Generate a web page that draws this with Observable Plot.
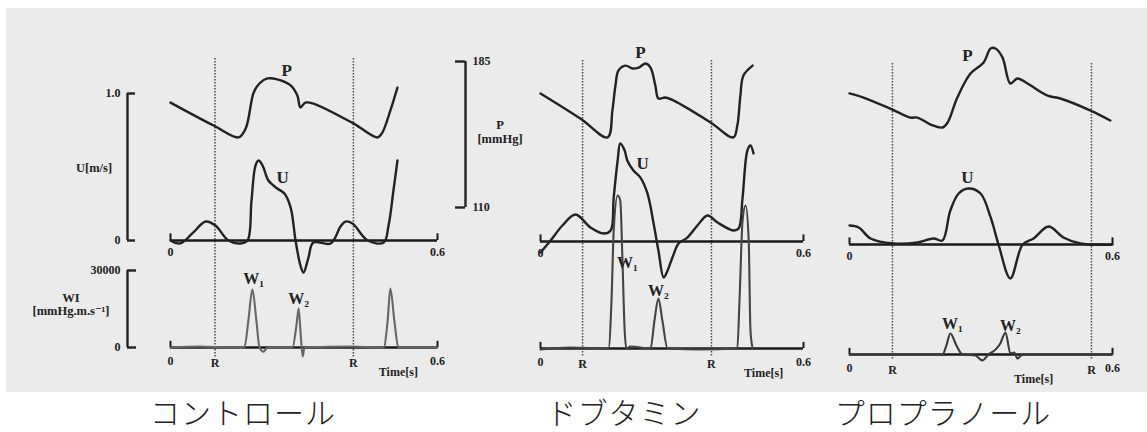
<!DOCTYPE html>
<html><head><meta charset="utf-8">
<script src="https://cdn.jsdelivr.net/npm/d3@7"></script>
<script src="https://cdn.jsdelivr.net/npm/@observablehq/plot@0.6"></script>
<style>
body{margin:0;background:#fff;}
#wrap{position:relative;width:1147px;height:432px;overflow:hidden;background:#fff;}
#paper{position:absolute;left:6px;top:8px;width:1141px;height:384px;background:#ebebeb;}
.cap{position:absolute;top:392px;transform:translateX(-50%);font-family:"Noto Sans CJK JP",sans-serif;font-weight:300;font-size:30px;letter-spacing:1px;color:#222;white-space:nowrap;line-height:38px;}
</style></head>
<body><div id="wrap"><div id="paper"></div></div>
<script>
// ---------- data ----------
const panelNames = ["コントロール", "ドブタミン", "プロプラノール"];
const timeDomain = [0, 0.6];
const xTicks = [0, 0.6];
const xTickLabels = ["0", "0.6"];
const pDomain = [110, 185];
const uDomain = [0, 1];
const wDomain = [0, 30000];
const pTicks = [110, 185], pTickLabels = ["110", "185"];
const uTicks = [0, 1], uTickLabels = ["0", "1.0"];
const wTicks = [0, 30000], wTickLabels = ["0", "30000"];

// control  [time s, value]
const ctrlP = [[0,163.9],[0.097,152.1],[0.153,146.0],[0.169,150.6],[0.187,169.1],[0.200,173.7],[0.218,176.3],[0.240,175.8],[0.270,172.7],[0.285,167.5],[0.292,161.4],[0.303,163.9],[0.321,163.4],[0.411,153.2],[0.465,146.0],[0.476,148.5],[0.494,159.8],[0.510,171.6]];
const ctrlU = [[0,0],[0.022,-0.02],[0.049,0.048],[0.079,0.129],[0.101,0.102],[0.130,0],[0.157,-0.02],[0.173,0],[0.182,0.272],[0.191,0.51],[0.198,0.544],[0.207,0.51],[0.220,0.408],[0.240,0.354],[0.256,0.320],[0.270,0.224],[0.281,0],[0.292,-0.17],[0.299,-0.218],[0.310,-0.116],[0.321,-0.014],[0.360,-0.02],[0.382,0.095],[0.393,0.129],[0.409,0.116],[0.443,0],[0.479,-0.014],[0.490,0.102],[0.501,0.340],[0.510,0.544]];
const ctrlW = [[0,0],[0.067,400],[0.135,0],[0.166,0],[0.175,10500],[0.184,22600],[0.193,10500],[0.200,0],[0.209,-1600],[0.218,0],[0.274,0],[0.283,8600],[0.288,15200],[0.292,6600],[0.297,-3500],[0.301,0],[0.404,400],[0.479,0],[0.488,10500],[0.494,23000],[0.503,10500],[0.512,0],[0.6,0]];
const ctrlR = [0.1, 0.411];
const ctrlLabels = {P:[0.261,180.4], U:[0.252,0.43], W1:[0.187,26900], W2:[0.288,19100], time:0.512};

// dobutamine
const dobuP = [[0,168.6],[0.091,155.7],[0.153,146.0],[0.164,159.8],[0.171,172.7],[0.178,180.4],[0.194,182.9],[0.210,181.4],[0.224,181.9],[0.240,184.0],[0.251,181.9],[0.262,172.7],[0.269,166.0],[0.285,166.5],[0.303,165.0],[0.388,153.7],[0.440,146.0],[0.449,152.1],[0.456,167.5],[0.463,177.8],[0.484,182.9]];
const dobuU = [[0,-0.075],[0.023,0.007],[0.050,0.109],[0.080,0.184],[0.114,0.095],[0.144,0.054],[0.160,0.075],[0.167,0.299],[0.176,0.551],[0.182,0.667],[0.192,0.619],[0.198,0.551],[0.212,0.483],[0.228,0.435],[0.244,0.327],[0.258,0.122],[0.269,-0.061],[0.281,-0.245],[0.290,-0.197],[0.301,-0.109],[0.315,-0.014],[0.335,0.027],[0.358,0.109],[0.381,0.177],[0.404,0.129],[0.440,0.075],[0.452,0.088],[0.461,0.299],[0.472,0.619],[0.479,0.653],[0.486,0.599]];
const dobuW = [[0,-400],[0.068,400],[0.155,0],[0.162,18700],[0.167,46000],[0.176,59600],[0.182,57700],[0.187,34300],[0.192,7000],[0.196,0],[0.205,800],[0.251,0],[0.260,10900],[0.269,19500],[0.278,10900],[0.290,0],[0.365,-400],[0.449,0],[0.454,18700],[0.461,49900],[0.468,55700],[0.475,42100],[0.479,7000],[0.484,0]];
const dobuR = [0.096, 0.39];
const dobuLabels = {P:[0.228,189.6], U:[0.233,0.53], W1:[0.198,33500], W2:[0.269,22600], time:0.509};

// propranolol
const propP = [[0,168.6],[0.032,166.5],[0.098,160.3],[0.139,156.2],[0.155,156.2],[0.185,152.6],[0.212,151.1],[0.224,153.7],[0.246,166.5],[0.276,178.8],[0.306,184.5],[0.322,191.7],[0.333,191.7],[0.349,187.1],[0.367,173.7],[0.383,176.3],[0.406,173.7],[0.452,167.5],[0.481,166.0],[0.550,159.8],[0.595,154.7]];
const propU = [[0,0.129],[0.021,0.116],[0.048,0.041],[0.100,0.007],[0.155,0.014],[0.192,0.041],[0.212,0.027],[0.230,0.231],[0.249,0.347],[0.271,0.381],[0.299,0.347],[0.322,0.184],[0.340,0],[0.367,-0.231],[0.395,0],[0.420,0.041],[0.454,0.122],[0.488,0.048],[0.527,0.007],[0.600,0]];
const propW = [[0,0],[0.071,0],[0.212,0],[0.221,3500],[0.230,8200],[0.244,3500],[0.258,0],[0.287,-400],[0.303,-2300],[0.317,0],[0.333,1900],[0.344,4300],[0.356,8600],[0.367,400],[0.376,800],[0.383,-1600],[0.395,0],[0.6,0]];
const propR = [0.098, 0.552];
const propLabels = {P:[0.269,188.1], U:[0.269,0.456], W1:[0.235,12100], W2:[0.367,11300], time:0.42};

// axis titles [text, value]
const uTitles = [["U[m/s]", 0.49]];
const wTitles = [["WI", 19100], ["[mmHg.m.s\u207B\u00B9]", 14000]];
const pTitles = [["P", 152.1], ["[mmHg]", 144.9]];

// ---------- layout (pixels) ----------
const W = 1147, H = 392;
const layout = [
  {x:[170,437], P:[207,61], U:[240,93], W:[347,270], rTop:58, rBottom:357},
  {x:[540,803], P:[207,61], U:[241,94], W:[348,271], rTop:60, rBottom:357},
  {x:[849,1112], P:[207,61], U:[244,97], W:[354,277], rTop:63, rBottom:360}
];
const captionX = [243, 624, 943];
const panels = [
  {P:ctrlP, U:ctrlU, W:ctrlW, R:ctrlR, L:ctrlLabels, wColor:"#666"},
  {P:dobuP, U:dobuU, W:dobuW, R:dobuR, L:dobuLabels, wColor:"#444"},
  {P:propP, U:propU, W:propW, R:propR, L:propLabels, wColor:"#3a3a3a"}
];

const ink = "#222";
const serif = "Liberation Serif, DejaVu Serif, serif";
const tickFont = {fontFamily: serif, fontWeight: "bold", fontSize: 12, fill: ink};
const bigFont = {fontFamily: serif, fontWeight: "bold", fontSize: 17, fill: ink};
const wFont = {fontFamily: serif, fontWeight: "bold", fontSize: 16, fill: ink};
const wrap = document.getElementById("wrap");

function place(svg, left, top) {
  Object.assign(svg.style, {position:"absolute", left:left+"px", top:top+"px", background:"transparent", maxWidth:"none", overflow:"visible"});
  wrap.appendChild(svg);
}
const px = d => d[0], py = d => d[1];

panels.forEach((pn, i) => {
  const L = layout[i];
  const x = {domain: timeDomain, range: L.x, axis: null};
  // R lines
  place(Plot.plot({
    width: W, height: H, marginTop: L.rTop, marginBottom: H - L.rBottom, marginLeft: 0, marginRight: 0,
    x,
    marks: [Plot.ruleX(pn.R, {stroke: "#4a4a4a", strokeWidth: 1.5, strokeDasharray: "1.5,1.5"})]
  }), 0, 0);
  // P
  place(Plot.plot({
    width: W, height: H, margin: 0, x,
    y: {domain: pDomain, range: L.P, axis: null},
    marks: [
      Plot.line(pn.P, {x: px, y: py, curve: "catmull-rom", stroke: ink, strokeWidth: 2.4}),
      Plot.text([pn.L.P], {x: px, y: py, text: () => "P", ...bigFont})
    ]
  }), 0, 0);
  // U
  place(Plot.plot({
    width: W, height: H, margin: 0, x,
    y: {domain: uDomain, range: L.U, axis: null},
    marks: [
      Plot.ruleY([0], {x1: xTicks[0], x2: xTicks[1], stroke: "#1a1a1a", strokeWidth: 2.4}),
      Plot.ruleX(xTicks, {y1: 0, y2: 0.045, stroke: "#1a1a1a", strokeWidth: 2}),
      Plot.text(xTicks, {x: d => d, y: 0, dy: 12, text: (d, k) => xTickLabels[k], ...tickFont}),
      Plot.line(pn.U, {x: px, y: py, curve: "catmull-rom", stroke: ink, strokeWidth: 2.4}),
      Plot.text([pn.L.U], {x: px, y: py, text: () => "U", ...bigFont})
    ]
  }), 0, 0);
  // W
  place(Plot.plot({
    width: W, height: H, margin: 0, x,
    y: {domain: wDomain, range: L.W, axis: null},
    marks: [
      Plot.ruleY([0], {x1: xTicks[0], x2: xTicks[1], stroke: "#1a1a1a", strokeWidth: 2.4}),
      Plot.ruleX(xTicks, {y1: 0, y2: 2400, stroke: "#1a1a1a", strokeWidth: 2}),
      Plot.line(pn.W, {x: px, y: py, curve: "monotone-x", stroke: pn.wColor, strokeWidth: 2.1}),
      Plot.text(xTicks, {x: d => d, y: 0, dy: 14, text: (d, k) => xTickLabels[k], ...tickFont}),
      Plot.text(pn.R, {x: d => d, y: 0, dy: 16, text: () => "R", ...tickFont}),
      Plot.text([pn.L.time], {x: d => d, y: 0, dy: 25, text: () => "Time[s]", ...tickFont}),
      Plot.text([pn.L.W1], {x: px, y: py, text: () => "W\u2081", ...wFont}),
      Plot.text([pn.L.W2], {x: px, y: py, text: () => "W\u2082", ...wFont})
    ]
  }), 0, 0);
});

// brackets (scale bars)
function bracket(b) {
  const left = b.side === "left", room = 130, pad = 14;
  const svg = Plot.plot({
    width: room + b.tick, height: b.y1 - b.y0 + 2 * pad,
    marginTop: pad, marginBottom: pad,
    marginLeft: left ? room : 0, marginRight: left ? 0 : room,
    x: {domain: [0, 1], axis: null},
    y: {domain: b.domain, axis: null},
    marks: [
      Plot.ruleX([left ? 0 : 1], {stroke: ink, strokeWidth: 2.4}),
      Plot.ruleY(b.ticks, {stroke: ink, strokeWidth: 2.4}),
      Plot.text(b.ticks, {y: d => d, text: (d, k) => b.labels[k], frameAnchor: left ? "left" : "right",
        dx: left ? -7 : 7, textAnchor: left ? "end" : "start", ...tickFont}),
      Plot.text(b.titles, {y: d => d[1], text: d => d[0], frameAnchor: left ? "left" : "right",
        textAnchor: "middle", ...tickFont, fontSize: 12.5})
    ]
  });
  // shift title texts horizontally
  svg.querySelectorAll("g[aria-label='text']").forEach((g, gi) => {
    if (gi === 1) g.setAttribute("transform", `translate(${b.titleDx},0)`);
  });
  place(svg, left ? b.x - room : b.x - b.tick, b.y0 - pad);
}
bracket({side: "left", x: 127, y0: 93, y1: 240, tick: 8, domain: uDomain, ticks: uTicks, labels: uTickLabels, titles: uTitles, titleDx: -33});
bracket({side: "left", x: 127, y0: 270, y1: 347, tick: 9, domain: wDomain, ticks: wTicks, labels: wTickLabels, titles: wTitles, titleDx: -56});
bracket({side: "right", x: 465, y0: 61, y1: 207, tick: 10, domain: pDomain, ticks: pTicks, labels: pTickLabels, titles: pTitles, titleDx: 35});

// captions
panelNames.forEach((name, i) => {
  const d = document.createElement("div");
  d.className = "cap";
  d.style.left = captionX[i] + "px";
  d.textContent = name;
  wrap.appendChild(d);
});
</script>
</body></html>
